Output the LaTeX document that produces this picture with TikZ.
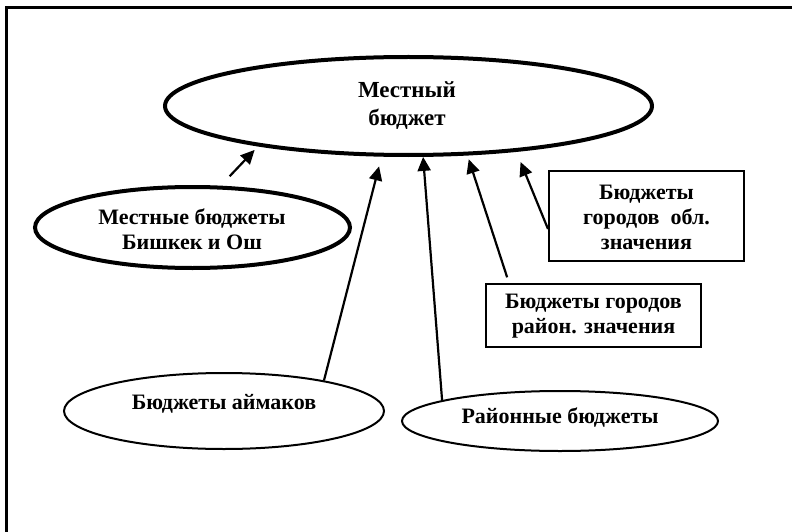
\documentclass[tikz,border=0pt]{standalone}
\usepackage{fontspec}
\setmainfont{Liberation Serif}
\usetikzlibrary{shapes.geometric,arrows.meta}
\begin{document}
\begin{tikzpicture}[x=1pt,y=-1pt,
  lbl/.style={font=\bfseries\fontsize{22}{25}\selectfont, align=center, inner sep=0pt},
  thickell/.style={ellipse, draw, line width=4pt, inner sep=0pt},
  thinell/.style={ellipse, draw, line width=2pt, inner sep=0pt},
  budbox/.style={rectangle, draw, line width=2pt, inner sep=0pt},
  arr/.style={-{Triangle[length=14pt,width=13pt]}, line width=2.2pt}]
\useasboundingbox (0,0) rectangle (792,532);
\draw[line width=3pt] (6,532) -- (6,7.5) -- (792,7.5);

% shapes
\node[thickell, minimum width=487pt, minimum height=98pt] (main) at (408.5,106) {};
\node[thickell, minimum width=315pt, minimum height=81pt] (bish) at (192.5,227.5) {};
\node[thinell, minimum width=320pt, minimum height=76pt] (aim) at (224,411) {};
\node[thinell, minimum width=316pt, minimum height=60pt] (ray) at (560,421) {};
\node[budbox, minimum width=195pt, minimum height=90pt] (obl) at (646.5,216) {};
\node[budbox, minimum width=215pt, minimum height=63pt] (rb) at (593.5,315.5) {};

% texts
\node[lbl, font=\bfseries\fontsize{23}{28}\selectfont] (mainT) at (407,106) {Местный\\бюджет};
\node[lbl] (bishT) at (192,229) {Местные бюджеты\\Бишкек и Ош};
\node[lbl] (aimT) at (224,404) {Бюджеты аймаков};
\node[lbl] (rayT) at (560,418) {Районные бюджеты};
\node[lbl] (oblT) at (646.5,217) {Бюджеты\\городов\ \ обл.\\значения};
\node[lbl] (rbT) at (593.5,316) {Бюджеты городов\\район. значения};

% connectors
\draw[arr, shorten <=13pt, shorten >=5pt] (bish.56) -- (main.195);
\draw[arr, shorten >=10pt] (aim.17) -- (main.242);
\draw[arr] (ray.170) -- (main.286);
\draw[arr, shorten <=6pt, shorten >=4pt] ([xshift=24pt]rb.north west) -- (main.320);
\draw[arr, shorten >=11pt] ([yshift=-13pt]obl.west) -- (main.337);
\end{tikzpicture}
\end{document}
